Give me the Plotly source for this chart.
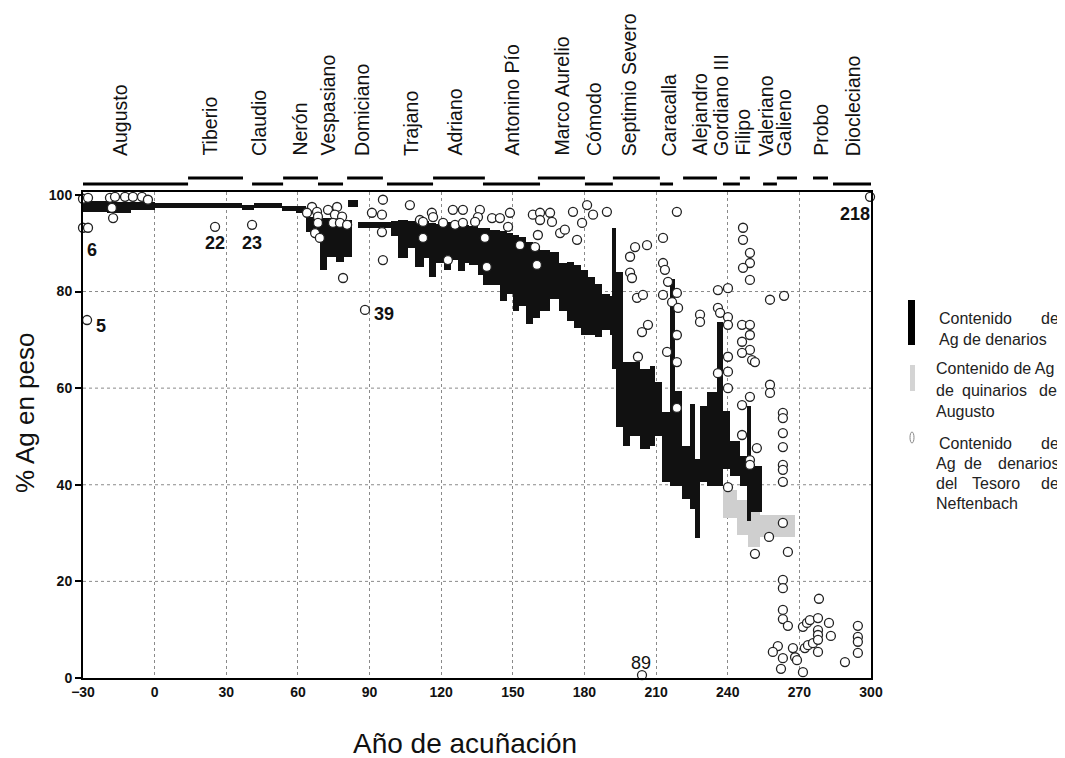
import plotly.graph_objects as go

# ---------------- data ----------------
# Denarios: silver content ranges (start year, end year, low %, high %)
den_start = [-30, -20, -10, 0, 15, 36.5, 41.5, 53.5, 59.2, 63.2, 69.2, 72.2, 76.1, 79.1, 81, 85,
             98.8, 102, 106, 109, 113, 115, 118, 121, 124, 127, 130, 131.5, 135.5, 137.5, 140.5,
             144.5, 147.5, 150, 152.5, 155.5, 158.5, 161.5, 165.5, 169.5, 172.5, 175.5, 178.5,
             181.5, 184.5, 187.5, 190.5, 191.5, 193.2, 196.1, 199.1, 203.2, 207.4, 209.5, 212.5,
             215.8, 218, 220.8, 224.2, 226.3, 228.4, 231.3, 235.5, 238, 241, 245.1, 248.1, 249.7]
den_end = [-20, -10, 0, 15, 36.5, 41.5, 53.5, 59.2, 63.2, 69.2, 72.2, 76.1, 79.1, 82.5, 85, 98.8,
           102, 106, 109, 113, 115, 118, 121, 124, 127, 130, 131.5, 135.5, 137.5, 140.5, 144.5,
           147.5, 150, 152.5, 155.5, 158.5, 161.5, 165.5, 169.5, 172.5, 175.5, 178.5, 181.5,
           184.5, 187.5, 190.5, 191.5, 193.2, 196.1, 199.1, 203.2, 207.4, 209.5, 212.5, 215.8,
           218, 220.8, 224.2, 226.3, 228.4, 231.3, 235.5, 238, 241, 245.1, 248.1, 249.7, 254.3]
den_lo = [96.5, 96.3, 96.8, 97.2, 97.3, 96.8, 97.2, 96.6, 96.3, 92.4, 84.5, 87.2, 86.2, 87.2, 97.5, 93.2,
          91.5, 87, 89, 85, 87, 83, 86, 84.5, 86.5, 84.2, 86, 85.5, 83.5, 81.4, 81.4,
          78, 79.5, 75.9, 77, 73.2, 74.5, 75.9, 78.5, 76, 74, 72.5, 71,
          71, 70.5, 72, 71, 64, 52, 48, 50.1, 47.4, 48, 50, 40.6,
          39.8, 39.8, 37.1, 35, 28.9, 40.6, 39.8, 39.8, 43.3, 41.9, 39.8, 32.4, 34.4]
den_hi = [98.8, 98.6, 98.6, 98.4, 98.3, 98.0, 98.3, 97.8, 97.6, 95.5, 95.3, 95.3, 95.0, 94.8, 99, 94.4,
          94.5, 94.8, 94.5, 94.8, 94.5, 94.2, 94, 94.4, 94, 94, 93.8, 93.6, 93.2, 93.2, 92.8,
          92.6, 92.2, 91.7, 91.2, 90.3, 89.5, 88.6, 88.2, 86, 86.2, 85.5, 84.5,
          83, 81.5, 79.5, 79, 93.2, 84, 65.5, 65.4, 64, 64.5, 61.2, 55,
          82.5, 59.4, 48, 56.7, 45.4, 56.3, 59.2, 73.6, 55.3, 49, 46, 56.3, 43.9]

# Quinarios de Augusto (grey blocks)
quin_start = [238, 243.9, 248.5, 253.5]
quin_end = [243.9, 248.5, 253.5, 268.2]
quin_lo = [33.1, 29.6, 27.1, 29.2]
quin_hi = [38.9, 36.9, 34.8, 33.7]

# Tesoro de Neftenbach (open circles)
neft_year = [-30, -27.9, -18.7, -16.6, -12.4, -9.1, -5.3, -2.8, -17.9, -17.4, -30, -27.9, -28.3, 25.3, 40.8,
             65.9, 63.8, 68, 68.4, 68.4, 72.6, 76.4, 75.5, 78.5, 74.7, 77.6, 80.6, 67.2, 69.2, 78.9,
             95.6, 91, 95.2, 95.2, 95.6, 88.1,
             106.9, 111.1, 112.4, 116.1, 116.6, 112.4, 120.8, 124.9, 129.1, 125.8, 129.1, 136.2, 135.4,
             134.2, 122.8, 141.3, 144.6, 148.8, 148, 138.3, 139.1, 153, 159.3, 160.5, 158.4, 161.4,
             161.4, 165.6, 166.4, 160.1, 169.8, 171.8, 176.9, 175.2, 181.1, 183.6, 179, 189.4,
             199.1, 201.2, 206.2, 199.1, 199.9, 202, 204.5, 204.1, 206.6, 202.4, 212.9, 218.7, 212.9,
             213.7, 215, 212.9, 218.7, 216.7, 219.2, 218.7, 214.6, 218.7, 218.7,
             228.4, 228.4, 235.9, 240.1, 235.9, 236.8, 240.1, 240.1, 235.9, 240.1, 240.1, 240.1, 240.1,
             246.4, 246.4, 249.3, 249.3, 246.4, 249.3, 246, 249.3, 249.3, 246, 249.3, 246, 250.2, 251.4,
             249.3, 246, 246, 252.2, 249.3, 249.3,
             257.7, 263.6, 257.7, 257.7, 263.1, 263.1, 263.1, 263.1, 263.1, 263.1, 263.1,
             299.6,
             263.1, 257.3, 265.2, 251.4, 263.1, 263.1, 263.1, 263.1, 265.2, 261, 258.9, 263.1, 262.3,
             267.3, 268.2, 269, 271.5, 272.3, 273.6, 275.7, 271.5, 273.2, 274.4, 277.8, 282.4, 277.8,
             277.8, 277.8, 277.8, 283.2, 278.2, 289.1, 294.5, 294.5, 294.5, 294.5, 204.1]
neft_ag = [99.2, 99.4, 99.4, 99.6, 99.6, 99.6, 99.6, 99, 97.3, 95.2, 93.2, 93.2, 74.1, 93.4, 93.8,
           97.5, 96.3, 96.5, 95.5, 94.2, 96.9, 97.5, 95.9, 95.5, 94.2, 94.2, 93.8, 92.1, 91.1, 82.8,
           99, 96.3, 95.9, 92.3, 86.5, 76.2,
           97.9, 94.8, 94.4, 96.3, 95.4, 91.1, 94.2, 96.9, 96.9, 93.8, 94.2, 96.9, 95.4,
           94.4, 86.5, 95.2, 95.2, 96.3, 93.4, 91.1, 85.1, 89.6, 89.2, 91.7, 95.9, 96.3,
           94.8, 96.3, 94.4, 85.5, 92.1, 92.8, 90.7, 96.5, 97.9, 95.9, 94.2, 96.5,
           87.2, 89.2, 89.6, 83.9, 82.8, 78.7, 79.3, 71.6, 73.1, 66.5, 91.1, 96.5, 85.9,
           84.5, 82, 79.3, 79.7, 77.8, 76.6, 71, 67.5, 65.4, 55.9,
           75.2, 73.7, 80.3, 80.7, 76.6, 75.6, 74.7, 73.1, 63.1, 66.5, 63.4, 60, 39.5,
           93.2, 90.7, 88, 85.9, 84.9, 82.4, 73.1, 73.1, 71, 69.6, 67.9, 67.3, 65.8, 65.4,
           58.2, 56.5, 50.3, 47.6, 45.1, 44.1,
           78.3, 79.1, 60.7, 59, 54.9, 53.8, 50.7, 47.8, 44.1, 43.1, 40.6,
           99.6,
           32.1, 29.2, 26.1, 25.7, 20.3, 18.6, 14.1, 12.2, 10.8, 6.6, 5.4, 4.1, 1.9,
           6.2, 4.3, 3.7, 1.2, 6.2, 6.8, 7.2, 10.6, 11.4, 12, 12.4, 11.4, 9.9,
           8.9, 7.9, 5.4, 8.7, 16.4, 3.3, 10.8, 8.5, 7.5, 5.2, 0.6]

# numbered specimens
spec_label = ["6", "5", "22", "23", "39", "218", "89"]
spec_year = [-26.2, -22.5, 25.3, 40.8, 96.0, 293.3, 203.7]
spec_ag = [88.6, 72.9, 90.0, 90.0, 75.4, 96.1, 3.1]

# emperors
emperors = ["Augusto", "Tiberio", "Claudio", "Nerón", "Vespasiano", "Domiciano", "Trajano",
            "Adriano", "Antonino Pío", "Marco Aurelio", "Cómodo", "Septimio Severo", "Caracalla",
            "Alejandro", "Gordiano III", "Filipo", "Valeriano", "Galieno", "Probo", "Diocleciano"]
emp_label_year = [-14.5, 22.8, 43.7, 60.5, 72.2, 86.8, 107.4, 125.4, 149.6, 170.2, 184, 198.6,
                  215.4, 228, 237.2, 246, 256, 263.5, 279, 292.4]
reign_start = [-30, 14, 40.8, 53.8, 68.4, 80.6, 97.3, 116.6, 137.5, 160.5, 180.2, 191.9, 211.6,
               221.3, 238, 245.1, 254.8, 260.6, 275.7, 284.1]
reign_end = [14, 37, 53.8, 68.4, 78.9, 95.6, 116.6, 138.3, 161.4, 180.2, 191.9, 211.6, 217.1,
             235.5, 245.1, 249.3, 260.6, 269, 282, 300.8]
reign_level = [0, 1, 0, 1, 0, 1, 0, 1, 0, 1, 0, 1, 0, 1, 0, 1, 0, 1, 1, 0]

x_ticks = [-30, 0, 30, 60, 90, 120, 150, 180, 210, 240, 270, 300]
y_ticks = [0, 20, 40, 60, 80, 100]

# ---------------- layout helpers ----------------
OFF = 8  # default page margin of the html body
W, H = 1065 - OFF, 758 - OFF
L, R, T, B = 83 - OFF, 194, 192 - OFF, 80
PW, PH = W - L - R, H - T - B
FONT = "Arial, Liberation Sans, sans-serif"


def px_x(px):
    return (px - OFF - L) / PW


def px_y(py):
    return (H - B - (py - OFF)) / PH


fig = go.Figure()

# grey quinarios
fig.add_trace(go.Bar(
    x=[(s + e) / 2 for s, e in zip(quin_start, quin_end)],
    width=[e - s for s, e in zip(quin_start, quin_end)],
    base=quin_lo,
    y=[h - l for l, h in zip(quin_lo, quin_hi)],
    marker=dict(color="#cfcfcf", line=dict(width=0)),
    showlegend=False, hoverinfo="skip"))

# black denarios
fig.add_trace(go.Bar(
    x=[(s + e) / 2 for s, e in zip(den_start, den_end)],
    width=[e - s for s, e in zip(den_start, den_end)],
    base=den_lo,
    y=[h - l for l, h in zip(den_lo, den_hi)],
    marker=dict(color="#111111", line=dict(width=0)),
    showlegend=False, hoverinfo="skip"))

# Neftenbach circles
fig.add_trace(go.Scatter(
    x=neft_year, y=neft_ag, mode="markers",
    marker=dict(symbol="circle", size=9, color="white", line=dict(color="#222222", width=1.3)),
    showlegend=False, hoverinfo="skip", cliponaxis=False))

shapes = []
# horizontal dotted gridlines (no line at 100)
for v in [20, 40, 60, 80]:
    shapes.append(dict(type="line", xref="paper", yref="y", x0=0, x1=1, y0=v, y1=v,
                       line=dict(color="#8a8a8a", width=1, dash="dot"), layer="below"))
# reign bars above plot
for s, e, lv in zip(reign_start, reign_end, reign_level):
    yy = px_y(178) if lv == 1 else px_y(184)
    shapes.append(dict(type="line", xref="x", yref="paper", x0=s, x1=e, y0=yy, y1=yy,
                       line=dict(color="black", width=3)))

# legend icons
shapes.append(dict(type="rect", xref="paper", yref="paper", x0=px_x(908), x1=px_x(915),
                   y0=px_y(345), y1=px_y(300), fillcolor="black", line=dict(width=0)))
shapes.append(dict(type="rect", xref="paper", yref="paper", x0=px_x(910), x1=px_x(915),
                   y0=px_y(391), y1=px_y(365), fillcolor="#d4d4d4", line=dict(width=0)))
shapes.append(dict(type="circle", xref="paper", yref="paper", x0=px_x(910), x1=px_x(914),
                   y0=px_y(443), y1=px_y(432), fillcolor="white", line=dict(color="#888", width=1)))

annotations = []
# emperor names
for name, yr in zip(emperors, emp_label_year):
    annotations.append(dict(x=yr, y=px_y(158), xref="x", yref="paper", text=name,
                            textangle=-90, showarrow=False, xanchor="center", yanchor="bottom",
                            font=dict(family=FONT, size=19.5, color="#111")))
# specimen numbers
for lab, xv, yv in zip(spec_label, spec_year, spec_ag):
    annotations.append(dict(x=xv, y=yv, xref="x", yref="y", text=lab, showarrow=False,
                            font=dict(family=FONT, size=18, color="#111",
                                      weight="normal" if lab == "89" else "bold")))
# axis titles
annotations.append(dict(x=px_x(25), y=px_y(413), xref="paper", yref="paper", text="% Ag en peso",
                        textangle=-90, showarrow=False, xanchor="center", yanchor="middle",
                        font=dict(family=FONT, size=26, color="#111")))
annotations.append(dict(x=px_x(465), y=px_y(743), xref="paper", yref="paper",
                        text="Año de acuñación", showarrow=False, xanchor="center", yanchor="middle",
                        font=dict(family=FONT, size=28, color="#111")))

# legend text (justified lines built from words)
leg_words = [
    ("Contenido", 938, "left", 318), ("de", 1060, "right", 318),
    ("Ag de denarios", 938, "left", 339),
    ("Contenido de Ag", 935, "left", 368),
    ("de", 935, "left", 390), ("quinarios", 995, "center", 390), ("de", 1058, "right", 390),
    ("Augusto", 935, "left", 411),
    ("Contenido", 938, "left", 443), ("de", 1060, "right", 443),
    ("Ag", 935, "left", 463), ("de", 973, "center", 463), ("denarios", 1060, "right", 463),
    ("del", 935, "left", 483), ("Tesoro", 996, "center", 483), ("de", 1060, "right", 483),
    ("Neftenbach", 935, "left", 503),
]
for txt, px, anc, py in leg_words:
    annotations.append(dict(x=px_x(px), y=px_y(py), xref="paper", yref="paper", text=txt,
                            showarrow=False, xanchor=anc, yanchor="middle", borderpad=0,
                            font=dict(family=FONT, size=16, color="#222")))

fig.update_layout(
    width=W, height=H,
    margin=dict(l=L, r=R, t=T, b=B, autoexpand=False),
    plot_bgcolor="white", paper_bgcolor="white",
    barmode="overlay", bargap=0,
    shapes=shapes, annotations=annotations,
    font=dict(family=FONT, color="#111"),
    xaxis=dict(range=[-30, 300], tickvals=x_ticks, showgrid=True, gridcolor="#8a8a8a",
               griddash="dot", gridwidth=1, zeroline=False, showline=True, linecolor="black",
               linewidth=2, mirror=True, ticks="", ticklen=0,
               tickfont=dict(family=FONT, size=14, color="#111", weight="bold"),
               automargin=False),
    yaxis=dict(range=[0, 100.6], tickvals=y_ticks, showgrid=False, zeroline=False,
               showline=True, linecolor="black", linewidth=2, mirror=True,
               ticks="outside", ticklen=6, tickwidth=2, tickcolor="black",
               tickfont=dict(family=FONT, size=14, color="#111", weight="bold"),
               automargin=False),
)

fig.write_html("out.html")
